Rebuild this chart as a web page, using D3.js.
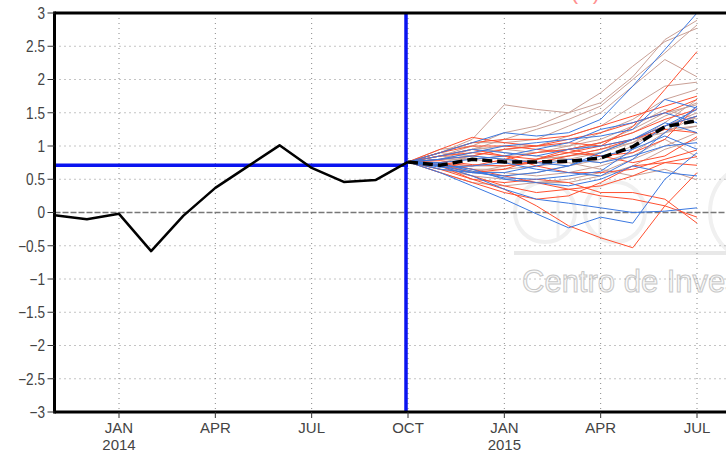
<!DOCTYPE html>
<html>
<head>
<meta charset="utf-8">
<script src="https://cdnjs.cloudflare.com/ajax/libs/d3/7.8.5/d3.min.js"></script>
<style>
  body { margin: 0; background: #fff; }
  svg { display: block; }
</style>
</head>
<body>
<div id="chart"></div>
<script>
// month index 0 = NOV 2013
var tickMonths = [2, 5, 8, 11, 14, 17, 20];
var tickLabels = ['JAN', 'APR', 'JUL', 'OCT', 'JAN', 'APR', 'JUL'];
var tickYears = ['2014', '', '', '', '2015', '', ''];
var yTicks = [-3, -2.5, -2, -1.5, -1, -0.5, 0, 0.5, 1, 1.5, 2, 2.5, 3];

// observed NOV 2013 .. OCT 2014
var observed = [-0.04, -0.1, -0.02, -0.58, -0.05, 0.37, 0.69, 1.01, 0.67, 0.46, 0.49, 0.76];
var refLevel = 0.71;
var startMonth = 11; // OCT 2014, forecast start

// forecast months OCT 2014 .. JUL 2015
var ensMean = [0.76, 0.71, 0.80, 0.76, 0.76, 0.77, 0.82, 0.99, 1.29, 1.38];

var brownMembers = [
  [.76, .9, 1.1, 1.62, 1.55, 1.5, 1.65, 2.04, 2.6, 2.89],
  [.76, .85, 1.0, 1.2, 1.3, 1.5, 1.8, 2.2, 2.57, 2.77],
  [.76, .8, .95, 1.1, 1.25, 1.4, 1.6, 2.0, 2.4, 2.82],
  [.76, .9, 1.05, 1.05, 1.1, 1.3, 1.5, 1.9, 2.3, 2.04],
  [.76, .75, .85, .95, 1.0, 1.15, 1.3, 1.6, 1.9, 1.96],
  [.76, .7, .6, .55, .6, .7, .8, 1.0, 1.3, 1.5],
  [.76, .8, .9, .95, .9, .95, 1.05, 1.2, 1.45, 1.65],
  [.76, .65, .55, .5, .45, .45, .55, .7, .95, 1.1],
  [.76, .85, .95, 1.0, 1.0, 1.0, 1.1, 1.3, 1.55, 1.4],
  [.76, .6, .45, .4, .45, .5, .6, .8, 1.0, 1.2],
  [.76, .7, .7, .7, .75, .8, .9, 1.1, 1.2, 1.3],
  [.76, .95, 1.0, .9, .85, .8, .75, .9, 1.2, 1.45],
  [.76, .75, .65, .65, .7, .75, .65, .55, .65, .49],
  [.76, .8, .8, .85, .9, 1.0, 1.2, 1.4, 1.7, 1.85],
  [.76, .72, .62, .6, .55, .6, .7, .85, 1.1, .84],
  [.76, .85, .8, .75, .8, .9, 1.05, 1.25, 1.5, 1.62],
  [.76, .9, .85, .8, .75, .85, .9, 1.05, 1.35, 1.7],
  [.76, .65, .6, .7, .8, .85, .95, 1.05, 1.25, 1.3]
];

var redMembers = [
  [.76, .85, .9, .85, .8, .9, 1.0, 1.29, 1.85, 2.42],
  [.76, .7, .5, .35, .1, -.2, -.38, -.53, .1, .6],
  [.76, .75, .65, .55, .45, .35, .25, .2, .1, -.07],
  [.76, .95, 1.13, 1.05, 1.0, 1.05, 1.0, 1.1, 1.25, 1.2],
  [.76, .7, .55, .4, .3, .35, .4, .55, .75, .84],
  [.76, .9, 1.0, 1.0, .95, .9, .85, .9, 1.1, 1.6],
  [.76, .8, .85, .95, 1.0, 1.1, 1.2, 1.35, 1.5, 1.7],
  [.76, .65, .5, .45, .5, .45, .3, .3, .2, -.16],
  [.76, .78, .72, .7, .75, .85, .95, 1.1, 1.3, 1.45],
  [.76, .85, .95, .85, .7, .6, .6, .65, .8, .94],
  [.76, .72, .6, .65, .8, .95, 1.05, 1.2, 1.4, 1.55],
  [.76, .9, 1.05, 1.1, 1.1, 1.15, 1.3, 1.45, 1.6, 1.75],
  [.76, .6, .45, .3, .2, .25, .45, .7, .75, .71],
  [.76, .75, .7, .8, .9, .95, .85, .75, .85, 1.14]
];

var blueMembers = [
  [.76, .9, 1.05, 1.2, 1.15, 1.2, 1.4, 1.9, 2.45, 3.0],
  [.76, .6, .4, .2, -.02, -.23, -.07, -.16, .5, .9],
  [.76, .7, .55, .35, .2, .14, .07, 0, .02, .07],
  [.76, .8, .9, 1.0, 1.05, 1.1, 1.15, 1.25, 1.7, 1.57],
  [.76, .65, .6, .55, .6, .7, .9, 1.1, 1.3, 1.45],
  [.76, .72, .65, .5, .45, .4, .5, .7, .6, .55],
  [.76, .85, .95, .9, .85, .95, 1.0, 1.1, 1.35, 1.2],
  [.76, .7, .6, .6, .7, .8, .75, .85, 1.0, 1.05],
  [.76, .75, .8, .85, .95, 1.05, 1.25, 1.35, 1.5, 1.35],
  [.76, .68, .7, .75, .65, .6, .55, .8, 1.2, 1.6],
  [.76, .8, .85, .8, .75, .7, .85, .95, 1.15, .95],
  [.76, .74, .62, .52, .5, .55, .62, .95, 1.3, 1.55]
];

var width = 726, height = 452;
var plotLeft = 54.5, plotTop = 13, plotBottom = 412, plotRight = 726;

var svg = d3.select('#chart').append('svg')
    .attr('width', width)
    .attr('height', height);

var x = d3.scaleLinear().domain([2, 20]).range([119, 697]);
var y = d3.scaleLinear().domain([-3, 3]).range([plotBottom, plotTop]);

var font = '"Liberation Sans", Arial, sans-serif';

// clipped red title, only its bottom shows
svg.append('text')
    .attr('x', 600).attr('y', -1)
    .attr('text-anchor', 'end')
    .attr('font-family', font)
    .attr('font-size', 22)
    .attr('fill', '#ff9090')
    .text('CFSv2 forecast Nino3.4 SST anomalies (K)');

// watermark
var wm = svg.append('g').attr('fill', 'none').attr('stroke', '#f0f0f0');
wm.append('circle').attr('cx', 545).attr('cy', 212).attr('r', 30).attr('stroke-width', 4);
wm.append('circle').attr('cx', 615).attr('cy', 212).attr('r', 30).attr('stroke-width', 4);
wm.append('circle').attr('cx', 760).attr('cy', 212).attr('r', 50).attr('stroke-width', 4);
wm.append('line').attr('x1', 558).attr('x2', 558).attr('y1', 195).attr('y2', 237).attr('stroke-width', 3);
wm.append('line').attr('x1', 600).attr('x2', 600).attr('y1', 195).attr('y2', 237).attr('stroke-width', 3);
svg.append('rect')
    .attr('x', 514).attr('y', 251).attr('width', plotRight - 514).attr('height', 4)
    .attr('fill', '#e8e8e8');
svg.append('text')
    .attr('x', 522).attr('y', 292)
    .attr('font-family', font)
    .attr('font-size', 31)
    .attr('fill', '#fafafa')
    .attr('stroke', '#c8c8c8')
    .attr('stroke-width', 1)
    .text('Centro de Investigaciones');

// grid
svg.append('g').selectAll('line')
    .data(yTicks.filter(d => d !== 0 && Math.abs(d) < 3))
    .enter().append('line')
    .attr('x1', plotLeft).attr('x2', plotRight)
    .attr('y1', d => y(d)).attr('y2', d => y(d))
    .attr('stroke', '#888').attr('stroke-width', 1)
    .attr('stroke-dasharray', '1,4');

svg.append('g').selectAll('line')
    .data(tickMonths)
    .enter().append('line')
    .attr('x1', d => x(d)).attr('x2', d => x(d))
    .attr('y1', plotTop).attr('y2', plotBottom)
    .attr('stroke', '#888').attr('stroke-width', 1)
    .attr('stroke-dasharray', '1,4');

svg.append('line')
    .attr('x1', plotLeft).attr('x2', plotRight)
    .attr('y1', y(0)).attr('y2', y(0))
    .attr('stroke', '#777').attr('stroke-width', 1.5)
    .attr('stroke-dasharray', '6,2');

// ensemble members
var fline = d3.line()
    .x((d, i) => x(startMonth + i))
    .y(d => y(d));

svg.append('clipPath').attr('id', 'plot')
    .append('rect').attr('x', plotLeft).attr('y', plotTop)
    .attr('width', plotRight - plotLeft).attr('height', plotBottom - plotTop);

var members = svg.append('g').attr('clip-path', 'url(#plot)');

members.selectAll('.brown')
    .data(brownMembers)
    .enter().append('path')
    .attr('class', 'brown')
    .attr('d', fline)
    .attr('fill', 'none')
    .attr('stroke', '#c9a096')
    .attr('stroke-width', 1);

members.selectAll('.red')
    .data(redMembers)
    .enter().append('path')
    .attr('class', 'red')
    .attr('d', fline)
    .attr('fill', 'none')
    .attr('stroke', '#ff5030')
    .attr('stroke-width', 1);

members.selectAll('.blue')
    .data(blueMembers)
    .enter().append('path')
    .attr('class', 'blue')
    .attr('d', fline)
    .attr('fill', 'none')
    .attr('stroke', '#3b78e0')
    .attr('stroke-width', 1);

// blue reference lines
svg.append('line')
    .attr('x1', plotLeft).attr('x2', x(startMonth))
    .attr('y1', y(refLevel)).attr('y2', y(refLevel))
    .attr('stroke', '#0a14f0').attr('stroke-width', 3.5);

svg.append('line')
    .attr('x1', x(startMonth) - 2).attr('x2', x(startMonth) - 2)
    .attr('y1', plotTop).attr('y2', plotBottom)
    .attr('stroke', '#0a14f0').attr('stroke-width', 3.5);

// observed
svg.append('path')
    .datum(observed)
    .attr('d', d3.line().x((d, i) => x(i)).y(d => y(d)))
    .attr('fill', 'none')
    .attr('stroke', '#000')
    .attr('stroke-width', 2.5)
    .attr('stroke-linejoin', 'round');

// ensemble mean
svg.append('path')
    .datum(ensMean)
    .attr('d', fline)
    .attr('fill', 'none')
    .attr('stroke', '#000')
    .attr('stroke-width', 3.5)
    .attr('stroke-dasharray', '10,5');

// frame
svg.append('line').attr('x1', plotLeft).attr('x2', plotRight).attr('y1', plotTop).attr('y2', plotTop)
    .attr('stroke', '#000').attr('stroke-width', 3);
svg.append('line').attr('x1', plotLeft).attr('x2', plotRight).attr('y1', plotBottom).attr('y2', plotBottom)
    .attr('stroke', '#000').attr('stroke-width', 3);
svg.append('line').attr('x1', plotLeft).attr('x2', plotLeft).attr('y1', plotTop - 1.5).attr('y2', plotBottom + 1.5)
    .attr('stroke', '#000').attr('stroke-width', 3);

// y axis ticks + labels
var yg = svg.append('g');
yg.selectAll('line')
    .data(yTicks)
    .enter().append('line')
    .attr('x1', plotLeft - 7).attr('x2', plotLeft)
    .attr('y1', d => y(d)).attr('y2', d => y(d))
    .attr('stroke', '#333').attr('stroke-width', 1);

yg.selectAll('text')
    .data(yTicks)
    .enter().append('text')
    .attr('x', 45)
    .attr('y', d => y(d) + 6)
    .attr('text-anchor', 'end')
    .attr('font-family', font)
    .attr('font-size', 16)
    .attr('fill', '#444')
    .attr('transform', `translate(${45 * 0.15}, 0) scale(0.85, 1)`)
    .text(d => d3.format('')(d));

// x axis ticks + labels
var xg = svg.append('g');
xg.selectAll('line')
    .data(tickMonths)
    .enter().append('line')
    .attr('x1', d => x(d)).attr('x2', d => x(d))
    .attr('y1', plotBottom).attr('y2', plotBottom + 6)
    .attr('stroke', '#333').attr('stroke-width', 1);

xg.selectAll('.mon')
    .data(tickMonths)
    .enter().append('text')
    .attr('class', 'mon')
    .attr('x', d => x(d))
    .attr('y', 433)
    .attr('text-anchor', 'middle')
    .attr('font-family', font)
    .attr('font-size', 15)
    .attr('fill', '#444')
    .text((d, i) => tickLabels[i]);

xg.selectAll('.yr')
    .data(tickMonths)
    .enter().append('text')
    .attr('class', 'yr')
    .attr('x', d => x(d))
    .attr('y', 450)
    .attr('text-anchor', 'middle')
    .attr('font-family', font)
    .attr('font-size', 15)
    .attr('fill', '#444')
    .text((d, i) => tickYears[i]);
</script>
</body>
</html>
